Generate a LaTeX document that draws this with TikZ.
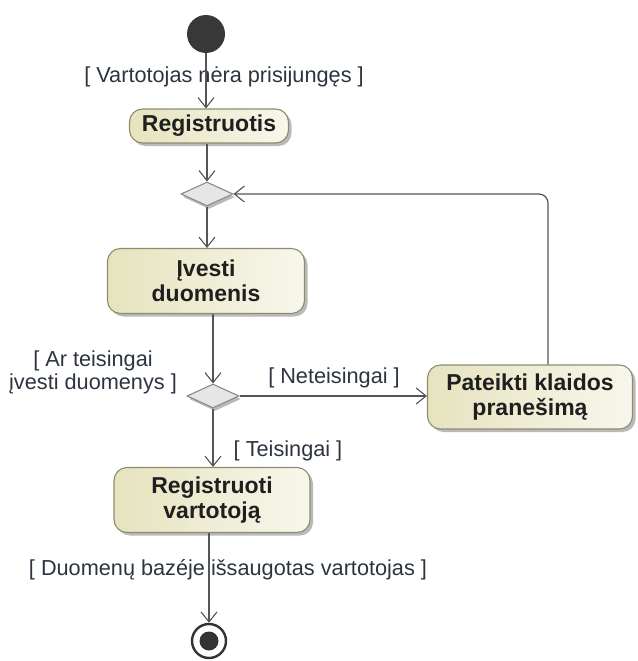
\documentclass[tikz,border=0pt]{standalone}
\usepackage{fontspec}
\setmainfont{Liberation Sans}
\usetikzlibrary{shapes.geometric,arrows.meta,shadows,calc}

\definecolor{flowline}{HTML}{555555}
\definecolor{boxedge}{HTML}{8C8C70}
\definecolor{boxdark}{HTML}{E6E3BE}
\definecolor{boxlight}{HTML}{F8F7EC}
\definecolor{guardtext}{HTML}{2C3440}
\definecolor{decfill}{HTML}{E6E6E6}
\definecolor{decedge}{HTML}{8A8A8A}

\tikzset{
  action/.style={rectangle, rounded corners=13pt, draw=boxedge, line width=1.1pt,
    left color=boxdark, right color=boxlight, align=center,
    font=\fontsize{23}{25}\selectfont\bfseries, text=black!88,
    drop shadow={shadow xshift=3pt, shadow yshift=-3pt, fill=black!45, opacity=0.6},
    inner sep=0pt},
  decision/.style={diamond, draw=decedge, fill=decfill, line width=1.1pt,
    minimum width=52pt, minimum height=24pt, inner sep=0pt,
    drop shadow={shadow xshift=2pt, shadow yshift=-3pt, fill=black!45, opacity=0.6}},
  guard/.style={font=\fontsize{21.7}{22}\selectfont, text=guardtext, align=center, inner sep=0pt},
  flow/.style={draw=flowline, line width=1.2pt,
    -{Straight Barb[length=10pt,width=16pt,line width=1.1pt]}},
}

\begin{document}
\begin{tikzpicture}[x=1pt,y=-1pt]
\useasboundingbox (0,0) rectangle (637,661);

% start and end
\node[circle, fill=black!78, minimum size=38pt, inner sep=0pt] (start) at (206,34) {};
\node[circle, draw=black!80, fill=white, line width=2.4pt, minimum size=34pt, inner sep=0pt] (end) at (209,641) {};
\fill[black!80] (end.center) circle (9.5pt);

% actions
\node[action, minimum width=159pt, minimum height=34pt] (reg) at (209,126) {Registruotis};
\node[action, minimum width=197pt, minimum height=65pt] (ivesti) at (206,281) {Įvesti\\duomenis};
\node[action, minimum width=205pt, minimum height=64pt] (klaida) at (530,397) {Pateikti klaidos\\pranešimą};
\node[action, minimum width=196pt, minimum height=65pt] (regv) at (212,500) {Registruoti\\vartotoją};

% decisions
\node[decision] (d1) at (207,194) {};
\node[decision] (d2) at (213,396) {};

% guards
\node[guard] (g1) at (224,77) {[ Vartotojas nėra prisijungęs ]};
\node[guard, font=\fontsize{21.7}{23}\selectfont] (g2) at (93,372) {[ Ar teisingai\\įvesti duomenys ]};
\node[guard] (g3) at (334,378) {[ Neteisingai ]};
\node[guard] (g4) at (288,451) {[ Teisingai ]};
\node[guard] (g5) at (228,570) {[ Duomenų bazéje išsaugotas vartotojas ]};

% flows
\draw[flow] (start) -- (start |- reg.north);
\draw[flow] (reg.south -| d1) -- (d1.north);
\draw[flow] (d1.south) -- (d1 |- ivesti.north);
\draw[flow] (ivesti.south -| d2) -- (d2.north);
\draw[flow] (d2.east) -- (klaida.west |- d2);
\draw[flow] (d2.south) -- (d2 |- regv.north);
\draw[flow] (regv.south -| end) -- (end.north);
\draw[flow, rounded corners=9pt] ([xshift=18pt]klaida.north) |- (d1.east);
\end{tikzpicture}
\end{document}
